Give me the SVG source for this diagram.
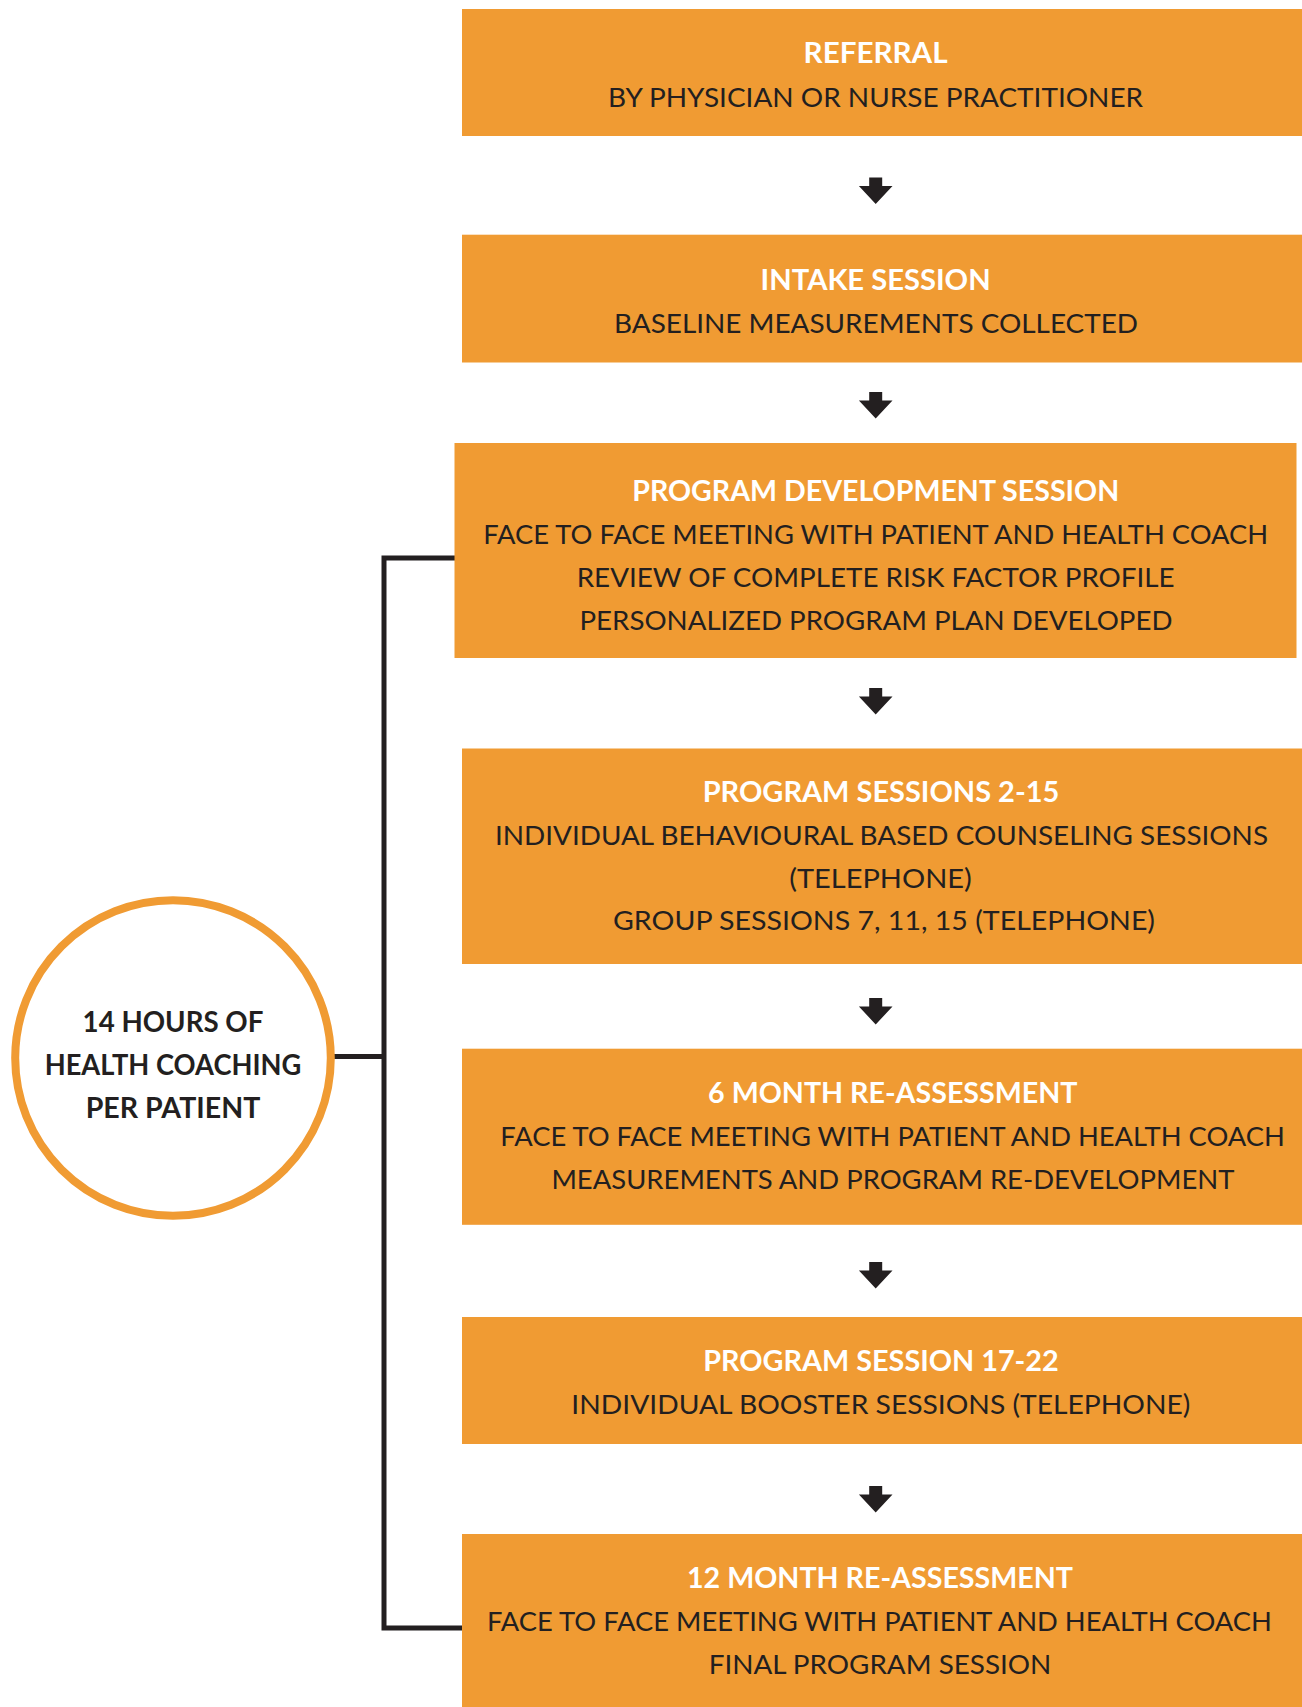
<svg xmlns="http://www.w3.org/2000/svg" width="1302" height="1707" viewBox="0 0 1302 1707">
  <style>
    .box { fill: #F09B33; }
    .title { font-family: Lato, "Open Sans", sans-serif; font-weight: 700; font-size: 29px; fill: #FFFFFF; text-anchor: middle; }
    .body { font-family: Lato, "Open Sans", sans-serif; font-weight: 400; font-size: 26.5px; fill: #231F20; text-anchor: middle; }
    .circ { font-family: Lato, "Open Sans", sans-serif; font-weight: 700; font-size: 28px; fill: #231F20; text-anchor: middle; }
    .conn { fill: none; stroke: #231F20; stroke-width: 5; }
    .arrow { fill: #231F20; }
  </style>
  <defs>
    <path id="arr" d="M -6.5 0 H 6.5 V 8.5 H 16.8 L 0 26.5 L -16.8 8.5 H -6.5 Z"/>
  </defs>
  <rect width="1302" height="1707" fill="#FFFFFF"/>

  <g id="connectors">
    <path class="conn" d="M 455 558 H 384 V 1628 H 463"/>
    <path class="conn" d="M 334 1056.5 H 384"/>
    <use href="#arr" class="arrow" x="875.7" y="177.5"/>
    <use href="#arr" class="arrow" x="875.7" y="392"/>
    <use href="#arr" class="arrow" x="875.7" y="688"/>
    <use href="#arr" class="arrow" x="875.7" y="998"/>
    <use href="#arr" class="arrow" x="875.7" y="1262"/>
    <use href="#arr" class="arrow" x="875.7" y="1486"/>
  </g>

  <g id="node-referral">
    <rect class="box" x="462" y="9" width="840" height="127"/>
    <text class="title" x="875.6" y="63.4" textLength="144" lengthAdjust="spacingAndGlyphs">REFERRAL</text>
    <text class="body" x="875.6" y="107" textLength="535" lengthAdjust="spacingAndGlyphs">BY PHYSICIAN OR NURSE PRACTITIONER</text>
  </g>

  <g id="node-intake">
    <rect class="box" x="462" y="234.7" width="840" height="127.8"/>
    <text class="title" x="875.6" y="290" textLength="230" lengthAdjust="spacingAndGlyphs">INTAKE SESSION</text>
    <text class="body" x="876" y="333" textLength="524" lengthAdjust="spacingAndGlyphs">BASELINE MEASUREMENTS COLLECTED</text>
  </g>

  <g id="node-program-development">
    <rect class="box" x="454.5" y="443" width="842" height="215"/>
    <text class="title" x="875.7" y="501" textLength="487" lengthAdjust="spacingAndGlyphs">PROGRAM DEVELOPMENT SESSION</text>
    <text class="body" x="875.7" y="543.5" textLength="785" lengthAdjust="spacingAndGlyphs">FACE TO FACE MEETING WITH PATIENT AND HEALTH COACH</text>
    <text class="body" x="875.7" y="586.5" textLength="598" lengthAdjust="spacingAndGlyphs">REVIEW OF COMPLETE RISK FACTOR PROFILE</text>
    <text class="body" x="876" y="629.5" textLength="593" lengthAdjust="spacingAndGlyphs">PERSONALIZED PROGRAM PLAN DEVELOPED</text>
  </g>

  <g id="node-program-sessions">
    <rect class="box" x="462" y="748.5" width="840" height="215.5"/>
    <text class="title" x="881" y="802.3" textLength="356.6" lengthAdjust="spacingAndGlyphs">PROGRAM SESSIONS 2-15</text>
    <text class="body" x="881.5" y="844.5" textLength="773" lengthAdjust="spacingAndGlyphs">INDIVIDUAL BEHAVIOURAL BASED COUNSELING SESSIONS</text>
    <text class="body" x="880.5" y="888" textLength="182.6" lengthAdjust="spacingAndGlyphs">(TELEPHONE)</text>
    <text class="body" x="884" y="930" textLength="542" lengthAdjust="spacingAndGlyphs">GROUP SESSIONS 7, 11, 15 (TELEPHONE)</text>
  </g>

  <g id="node-6-month">
    <rect class="box" x="462" y="1048.7" width="840" height="176.1"/>
    <text class="title" x="892.8" y="1103" textLength="369.4" lengthAdjust="spacingAndGlyphs">6 MONTH RE-ASSESSMENT</text>
    <text class="body" x="892.6" y="1146" textLength="784.5" lengthAdjust="spacingAndGlyphs">FACE TO FACE MEETING WITH PATIENT AND HEALTH COACH</text>
    <text class="body" x="892.9" y="1189" textLength="683" lengthAdjust="spacingAndGlyphs">MEASUREMENTS AND PROGRAM RE-DEVELOPMENT</text>
  </g>

  <g id="node-session-17-22">
    <rect class="box" x="462" y="1317" width="840" height="127"/>
    <text class="title" x="881" y="1371" textLength="355.5" lengthAdjust="spacingAndGlyphs">PROGRAM SESSION 17-22</text>
    <text class="body" x="880.8" y="1414.4" textLength="619" lengthAdjust="spacingAndGlyphs">INDIVIDUAL BOOSTER SESSIONS (TELEPHONE)</text>
  </g>

  <g id="node-12-month">
    <rect class="box" x="462" y="1534" width="840" height="173"/>
    <text class="title" x="880" y="1588.3" textLength="386" lengthAdjust="spacingAndGlyphs">12 MONTH RE-ASSESSMENT</text>
    <text class="body" x="879.4" y="1631.3" textLength="785" lengthAdjust="spacingAndGlyphs">FACE TO FACE MEETING WITH PATIENT AND HEALTH COACH</text>
    <text class="body" x="880" y="1674.3" textLength="342.6" lengthAdjust="spacingAndGlyphs">FINAL PROGRAM SESSION</text>
  </g>

  <g id="node-hours">
    <circle cx="173" cy="1058" r="157.8" fill="#FFFFFF" stroke="#F09B33" stroke-width="8"/>
    <text class="circ" x="173" y="1031.8" textLength="180.8" lengthAdjust="spacingAndGlyphs">14 HOURS OF</text>
    <text class="circ" x="173" y="1075" textLength="256.7" lengthAdjust="spacingAndGlyphs">HEALTH COACHING</text>
    <text class="circ" x="173" y="1117.5" textLength="174.6" lengthAdjust="spacingAndGlyphs">PER PATIENT</text>
  </g>
</svg>
